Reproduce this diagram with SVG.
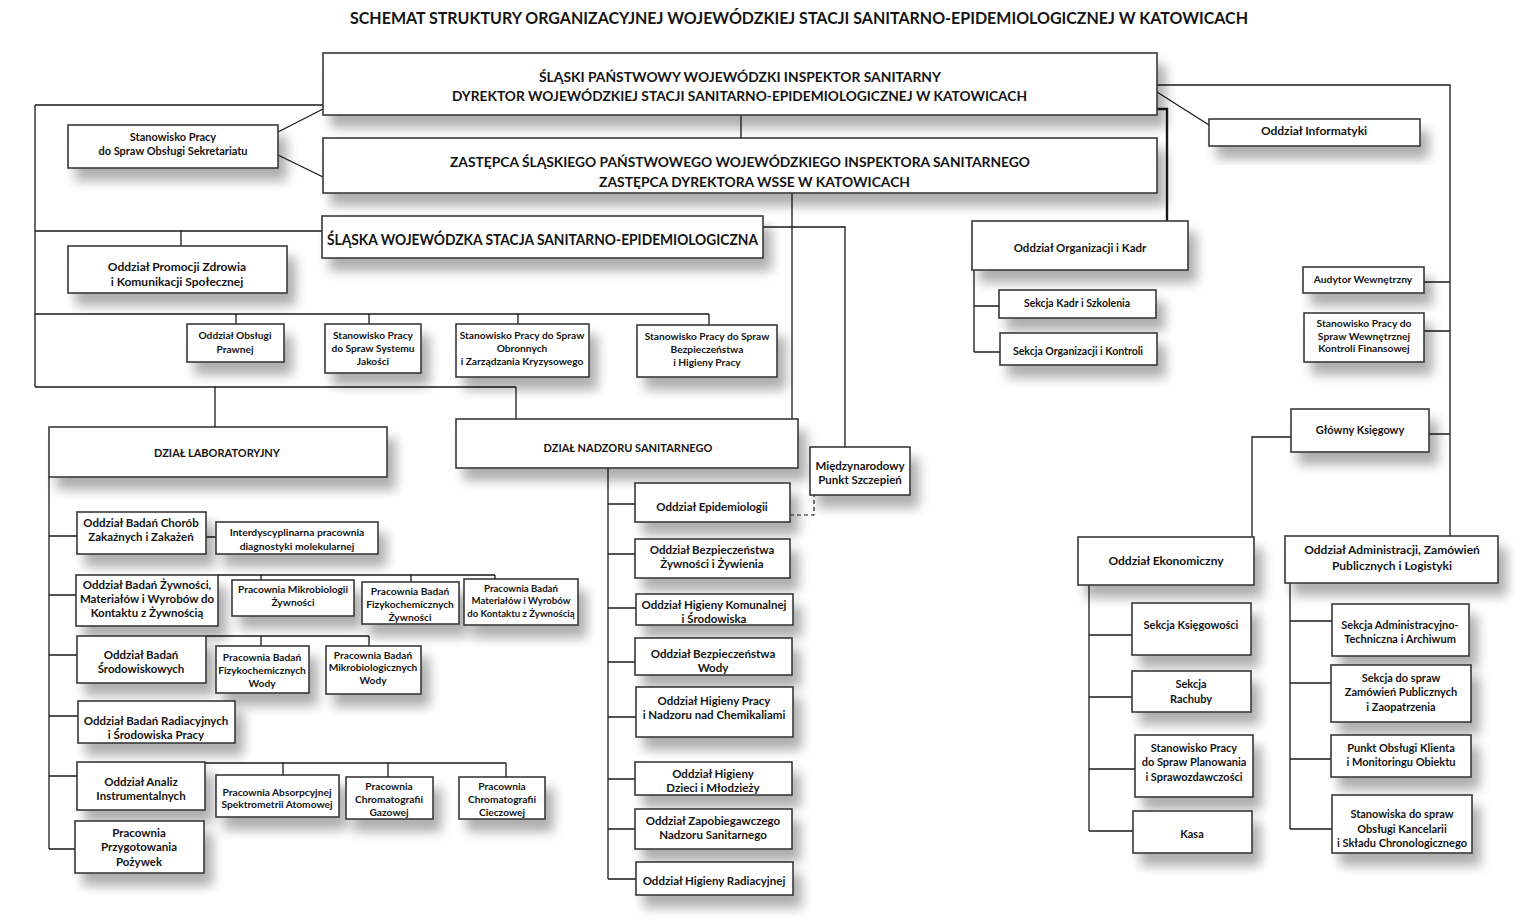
<svg xmlns="http://www.w3.org/2000/svg" width="1537" height="921" viewBox="0 0 1537 921">
<style>
.box{fill:#fff;stroke:#3a3a3a;stroke-width:1.6;filter:url(#sh)}
.t{font-family:Lato,"Liberation Sans",sans-serif;font-weight:bold;fill:#141414;text-anchor:middle}
.ts{font-family:Lato,"Liberation Sans",sans-serif;font-weight:bold;fill:#141414;text-anchor:start}
.f9{font-size:10.2px}.f95{font-size:9.6px}.f10{font-size:10.3px}.f105{font-size:10.5px}.f11{font-size:11px}.f115{font-size:11.5px}.f12{font-size:12px}.fs{font-size:11px}
.c{fill:none;stroke:#1a1a1a;stroke-width:1.3}
.cd{fill:none;stroke:#1a1a1a;stroke-width:1.2;stroke-dasharray:4 3}
</style>
<defs>
<filter id="sh" x="-15%" y="-30%" width="140%" height="200%">
<feGaussianBlur in="SourceAlpha" stdDeviation="6"/>
<feOffset dx="8" dy="12" result="o"/>
<feComponentTransfer><feFuncA type="linear" slope="0.32"/></feComponentTransfer>
<feMerge><feMergeNode/><feMergeNode in="SourceGraphic"/></feMerge>
</filter>
</defs>
<rect width="1537" height="921" fill="#fff"/>
<g id="title"><text class="ts" x="350" y="24" font-size="17" textLength="898" lengthAdjust="spacingAndGlyphs">SCHEMAT STRUKTURY ORGANIZACYJNEJ WOJEWÓDZKIEJ STACJI SANITARNO-EPIDEMIOLOGICZNEJ W KATOWICACH</text></g>

<g id="connectors">
<path class="c" d="M35 105H323M35 105V387M35 231H322M181 231V246M35 314H709M236 314V324M369 314V324M518 314V324M709 314V325M35 387H516M215 387V427M516 387V419"/>
<path class="c" d="M278 132L323 109M278 155L323 177"/>
<path class="c" d="M741 115V138M792 193V419M763 227H845V447"/>
<line x1="324.5" y1="61" x2="324.5" y2="79" stroke="#1a1a1a" stroke-width="2.5"/>
<path class="c" d="M608 468V879M608 504H635M608 554H635M608 608H636M608 662H635M608 717H636M608 779H635M608 829H635M608 879H636"/>
<path class="cd" d="M790 515H814V495"/>
<path class="c" d="M49 477V849M49 536H77M49 595H76M49 655H77M49 716H78M49 776H77M49 849H75M206 537H216"/>
<path class="c" d="M218 575H495M261 575V580M411 575V582M495 575V579M206 636H369M261 636V646M369 636V646M205 763H506M283 763V775M388 763V777M506 763V777"/>
<path class="c" d="M1157 92L1209 125M1157 85H1450V536M1424 282H1450M1424 331H1450M1429 434H1450M1291 437H1252V537"/>
<path fill="none" stroke="#1a1a1a" stroke-width="2.4" d="M1157 109H1167V221"/>
<path class="c" d="M974 270V352M974 306H999M974 352H1000"/>
<path class="c" d="M1089 585V831M1089 635H1132M1089 697H1132M1089 769H1135M1089 831H1133"/>
<path class="c" d="M1290 583V829M1290 621H1332M1290 683H1331M1290 759H1331M1290 829H1332"/>
</g>

<g id="n-inspektor"><rect class="box" x="323" y="53" width="834" height="62"/>
<text class="ts" x="539" y="82" font-size="14" textLength="402" lengthAdjust="spacingAndGlyphs">ŚLĄSKI PAŃSTWOWY WOJEWÓDZKI INSPEKTOR SANITARNY</text>
<text class="ts" x="452" y="101" font-size="14" textLength="575" lengthAdjust="spacingAndGlyphs">DYREKTOR WOJEWÓDZKIEJ STACJI SANITARNO-EPIDEMIOLOGICZNEJ W KATOWICACH</text></g>
<g id="n-zastepca"><rect class="box" x="323" y="138" width="834" height="55"/>
<text class="ts" x="450" y="167" font-size="14" textLength="580" lengthAdjust="spacingAndGlyphs">ZASTĘPCA ŚLĄSKIEGO PAŃSTWOWEGO WOJEWÓDZKIEGO INSPEKTORA SANITARNEGO</text>
<text class="ts" x="599" y="187" font-size="14" textLength="311" lengthAdjust="spacingAndGlyphs">ZASTĘPCA DYREKTORA WSSE W KATOWICACH</text></g>
<g id="n-wsse"><rect class="box" x="322" y="216" width="441" height="42"/>
<text class="ts" x="327" y="245" font-size="15" textLength="431" lengthAdjust="spacingAndGlyphs">ŚLĄSKA WOJEWÓDZKA STACJA SANITARNO-EPIDEMIOLOGICZNA</text></g>
<g id="n-sekretariat"><rect class="box" x="68" y="125" width="210" height="43"/>
<text class="t fs" x="173" y="141">Stanowisko Pracy</text><text class="t fs" x="173" y="155">do Spraw Obsługi Sekretariatu</text></g>
<g id="n-promocji"><rect class="box" x="68" y="246" width="219" height="47"/>
<text class="t f12" x="177" y="271">Oddział Promocji Zdrowia</text><text class="t f12" x="177" y="286">i Komunikacji  Społecznej</text></g>
<g id="n-prawnej"><rect class="box" x="187" y="324" width="97" height="38"/>
<text class="t f9" x="235" y="339">Oddział Obsługi</text><text class="t f9" x="235" y="353">Prawnej</text></g>
<g id="n-jakosc"><rect class="box" x="325" y="324" width="96" height="49"/>
<text class="t f9" x="373" y="339">Stanowisko Pracy</text><text class="t f9" x="373" y="352">do Spraw Systemu</text><text class="t f9" x="373" y="365">Jakości</text></g>
<g id="n-obronnych"><rect class="box" x="456" y="324" width="133" height="53"/>
<text class="t f9" x="522" y="339">Stanowisko Pracy do Spraw</text><text class="t f9" x="522" y="352">Obronnych</text><text class="t f9" x="522" y="365">i Zarządzania Kryzysowego</text></g>
<g id="n-bhp"><rect class="box" x="637" y="325" width="140" height="52"/>
<text class="t f9" x="707" y="340">Stanowisko Pracy do Spraw</text><text class="t f9" x="707" y="353">Bezpieczeństwa</text><text class="t f9" x="707" y="366">i Higieny Pracy</text></g>

<g id="n-lab"><rect class="box" x="49" y="427" width="338" height="50"/>
<text class="t f11" x="217" y="457">DZIAŁ LABORATORYJNY</text></g>
<g id="n-nadzor"><rect class="box" x="456" y="419" width="342" height="49"/>
<text class="t f11" x="628" y="452">DZIAŁ NADZORU  SANITARNEGO</text></g>
<g id="n-miedzynarodowy"><rect class="box" x="810" y="447" width="100" height="48"/>
<text class="t f115" x="860" y="470">Międzynarodowy</text><text class="t f115" x="860" y="484">Punkt Szczepień</text></g>

<g id="n-epidemiologii"><rect class="box" x="635" y="483" width="155" height="39"/>
<text class="t f115" x="712" y="511">Oddział Epidemiologii</text></g>
<g id="n-bzz"><rect class="box" x="635" y="539" width="155" height="39"/>
<text class="t f115" x="712" y="554">Oddział Bezpieczeństwa</text><text class="t f115" x="712" y="568">Żywności i Żywienia</text></g>
<g id="n-komunalnej"><rect class="box" x="636" y="594" width="157" height="31"/>
<text class="t f115" x="714" y="609">Oddział Higieny Komunalnej</text><text class="t f115" x="714" y="623">i Środowiska</text></g>
<g id="n-wody"><rect class="box" x="635" y="638" width="157" height="37"/>
<text class="t f115" x="713" y="658">Oddział Bezpieczeństwa</text><text class="t f115" x="713" y="672">Wody</text></g>
<g id="n-hpracy"><rect class="box" x="636" y="687" width="157" height="50"/>
<text class="t f115" x="714" y="705">Oddział Higieny Pracy</text><text class="t f115" x="714" y="719">i Nadzoru nad Chemikaliami</text></g>
<g id="n-dzieci"><rect class="box" x="635" y="762" width="157" height="33"/>
<text class="t f115" x="713" y="778">Oddział Higieny</text><text class="t f115" x="713" y="792">Dzieci i Młodzieży</text></g>
<g id="n-zapobiegawczego"><rect class="box" x="635" y="809" width="157" height="40"/>
<text class="t f115" x="713" y="825">Oddział Zapobiegawczego</text><text class="t f115" x="713" y="839">Nadzoru Sanitarnego</text></g>
<g id="n-radiacyjnej"><rect class="box" x="636" y="862" width="157" height="33"/>
<text class="t f115" x="714" y="885">Oddział Higieny Radiacyjnej</text></g>

<g id="n-chorob"><rect class="box" x="77" y="512" width="129" height="42"/>
<text class="t f115" x="141" y="527">Oddział Badań Chorób</text><text class="t f115" x="141" y="541">Zakaźnych i Zakażeń</text></g>
<g id="n-interdyscyplinarna"><rect class="box" x="216" y="522" width="162" height="32"/>
<text class="t f10" x="297" y="536">Interdyscyplinarna pracownia</text><text class="t f10" x="297" y="550">diagnostyki molekularnej</text></g>
<g id="n-zywnosci"><rect class="box" x="76" y="575" width="142" height="51"/>
<text class="t f115" x="147" y="589">Oddział Badań Żywności,</text><text class="t f115" x="147" y="603">Materiałów i Wyrobów do</text><text class="t f115" x="147" y="617">Kontaktu z Żywnością</text></g>
<g id="n-mikro-zyw"><rect class="box" x="232" y="580" width="122" height="36"/>
<text class="t f9" x="293" y="593">Pracownia Mikrobiologii</text><text class="t f9" x="293" y="606">Żywności</text></g>
<g id="n-fizyko-zyw"><rect class="box" x="362" y="582" width="97" height="42"/>
<text class="t f9" x="410" y="595">Pracownia Badań</text><text class="t f9" x="410" y="608">Fizykochemicznych</text><text class="t f9" x="410" y="621">Żywności</text></g>
<g id="n-materialow"><rect class="box" x="464" y="579" width="114" height="46"/>
<text class="t f95" x="521" y="592">Pracownia  Badań</text><text class="t f95" x="521" y="604">Materiałów i Wyrobów</text><text class="t f95" x="521" y="617">do Kontaktu z Żywnością</text></g>
<g id="n-srodowiskowych"><rect class="box" x="77" y="636" width="129" height="47"/>
<text class="t f115" x="141" y="659">Oddział Badań</text><text class="t f115" x="141" y="673">Środowiskowych</text></g>
<g id="n-fizyko-wody"><rect class="box" x="216" y="646" width="93" height="47"/>
<text class="t f9" x="262" y="661">Pracownia Badań</text><text class="t f9" x="262" y="674">Fizykochemicznych</text><text class="t f9" x="262" y="687">Wody</text></g>
<g id="n-mikro-wody"><rect class="box" x="326" y="646" width="95" height="48"/>
<text class="t f9" x="373" y="659">Pracownia Badań</text><text class="t f9" x="373" y="671">Mikrobiologicznych</text><text class="t f9" x="373" y="684">Wody</text></g>
<g id="n-radiacyjnych"><rect class="box" x="78" y="701" width="157" height="42"/>
<text class="t f115" x="156" y="725">Oddział Badań Radiacyjnych</text><text class="t f115" x="156" y="739">i Środowiska Pracy</text></g>
<g id="n-analiz"><rect class="box" x="77" y="762" width="128" height="48"/>
<text class="t f115" x="141" y="786">Oddział Analiz</text><text class="t f115" x="141" y="800">Instrumentalnych</text></g>
<g id="n-absorpcyjnej"><rect class="box" x="216" y="775" width="123" height="42"/>
<text class="t f9" x="277" y="796">Pracownia Absorpcyjnej</text><text class="t f9" x="277" y="808">Spektrometrii Atomowej</text></g>
<g id="n-gazowej"><rect class="box" x="346" y="777" width="87" height="42"/>
<text class="t f9" x="389" y="790">Pracownia</text><text class="t f9" x="389" y="803">Chromatografii</text><text class="t f9" x="389" y="816">Gazowej</text></g>
<g id="n-cieczowej"><rect class="box" x="459" y="777" width="86" height="42"/>
<text class="t f9" x="502" y="790">Pracownia</text><text class="t f9" x="502" y="803">Chromatografii</text><text class="t f9" x="502" y="816">Cieczowej</text></g>
<g id="n-pozywek"><rect class="box" x="75" y="821" width="129" height="52"/>
<text class="t f115" x="139" y="837">Pracownia</text><text class="t f115" x="139" y="851">Przygotowania</text><text class="t f115" x="139" y="866">Pożywek</text></g>

<g id="n-informatyki"><rect class="box" x="1209" y="119" width="211" height="27"/>
<text class="t f12" x="1314" y="135">Oddział  Informatyki</text></g>
<g id="n-organizacji"><rect class="box" x="972" y="221" width="216" height="49"/>
<text class="t f115" x="1080" y="252">Oddział  Organizacji  i Kadr</text></g>
<g id="n-kadr"><rect class="box" x="999" y="290" width="157" height="28"/>
<text class="t f105" x="1077" y="307">Sekcja Kadr i Szkolenia</text></g>
<g id="n-kontroli"><rect class="box" x="1000" y="333" width="157" height="32"/>
<text class="t f105" x="1078" y="355">Sekcja Organizacji i Kontroli</text></g>
<g id="n-audytor"><rect class="box" x="1303" y="267" width="121" height="26"/>
<text class="t f10" x="1363" y="283">Audytor Wewnętrzny</text></g>
<g id="n-wkf"><rect class="box" x="1304" y="313" width="120" height="49"/>
<text class="t f10" x="1364" y="327">Stanowisko Pracy do</text><text class="t f10" x="1364" y="340">Spraw Wewnętrznej</text><text class="t f10" x="1364" y="352">Kontroli Finansowej</text></g>
<g id="n-ksiegowy"><rect class="box" x="1291" y="409" width="138" height="43"/>
<text class="t f11" x="1360" y="434">Główny Księgowy</text></g>
<g id="n-ekonomiczny"><rect class="box" x="1078" y="537" width="176" height="48"/>
<text class="t f12" x="1166" y="565">Oddział  Ekonomiczny</text></g>
<g id="n-administracji"><rect class="box" x="1285" y="536" width="213" height="47"/>
<text class="t f12" x="1392" y="554">Oddział  Administracji,  Zamówień</text><text class="t f12" x="1392" y="570">Publicznych    i Logistyki</text></g>
<g id="n-ksiegowosci"><rect class="box" x="1132" y="603" width="119" height="52"/>
<text class="t f11" x="1191" y="629">Sekcja Księgowości</text></g>
<g id="n-rachuby"><rect class="box" x="1132" y="671" width="119" height="41"/>
<text class="t f11" x="1191" y="688">Sekcja</text><text class="t f11" x="1191" y="703">Rachuby</text></g>
<g id="n-planowania"><rect class="box" x="1135" y="735" width="118" height="62"/>
<text class="t f11" x="1194" y="752">Stanowisko Pracy</text><text class="t f11" x="1194" y="766">do Spraw Planowania</text><text class="t f11" x="1194" y="781">i Sprawozdawczości</text></g>
<g id="n-kasa"><rect class="box" x="1133" y="811" width="119" height="42"/>
<text class="t f11" x="1192" y="838">Kasa</text></g>
<g id="n-admtech"><rect class="box" x="1332" y="604" width="137" height="52"/>
<text class="t f11" x="1400" y="629">Sekcja Administracyjno-</text><text class="t f11" x="1400" y="643">Techniczna  i Archiwum</text></g>
<g id="n-zamowien"><rect class="box" x="1331" y="665" width="140" height="57"/>
<text class="t f11" x="1401" y="682">Sekcja do spraw</text><text class="t f11" x="1401" y="696">Zamówień Publicznych</text><text class="t f11" x="1401" y="711">i Zaopatrzenia</text></g>
<g id="n-klienta"><rect class="box" x="1331" y="735" width="140" height="42"/>
<text class="t f11" x="1401" y="752">Punkt  Obsługi Klienta</text><text class="t f11" x="1401" y="766">i Monitoringu  Obiektu</text></g>
<g id="n-kancelarii"><rect class="box" x="1332" y="795" width="140" height="58"/>
<text class="t f11" x="1402" y="818">Stanowiska do spraw</text><text class="t f11" x="1402" y="833">Obsługi Kancelarii</text><text class="t f11" x="1402" y="847">i Składu Chronologicznego</text></g>
</svg>
